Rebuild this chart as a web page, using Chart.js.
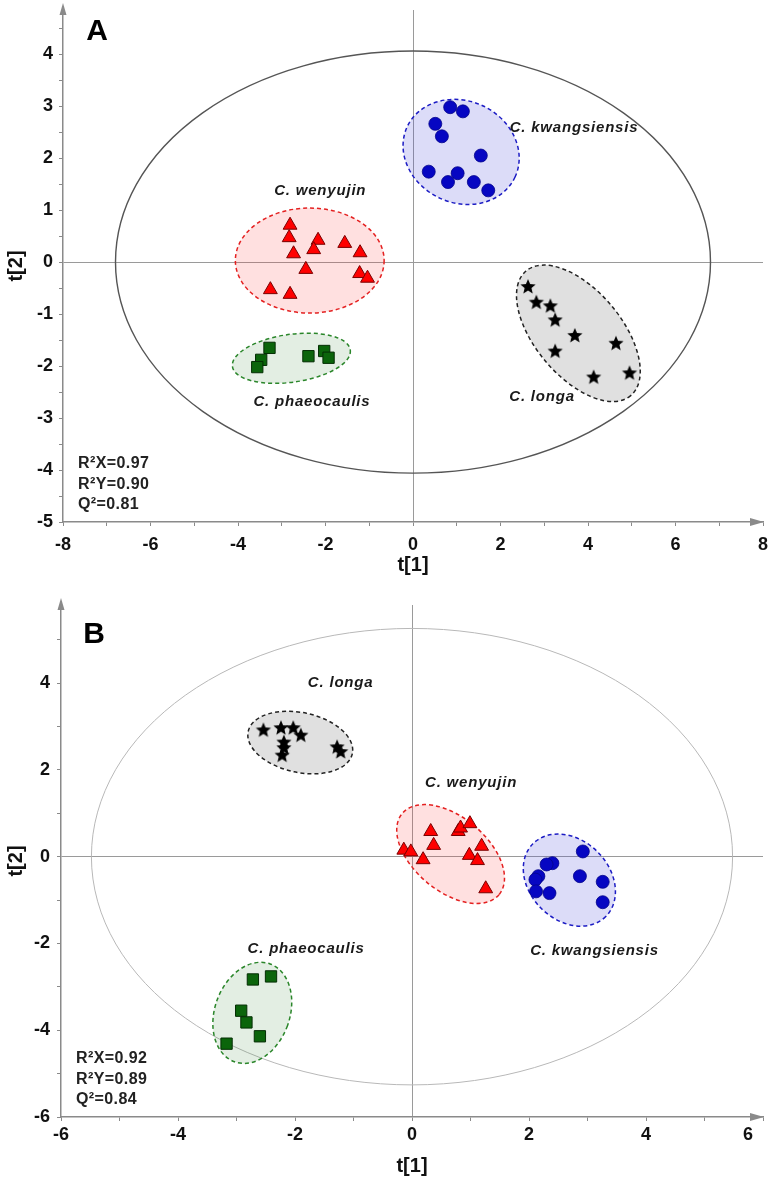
<!DOCTYPE html>
<html>
<head>
<meta charset="utf-8">
<script src="https://cdn.jsdelivr.net/npm/chart.js@4"></script>
<style>
    html, body { margin: 0; padding: 0; background: #fff; }
    .panel { position: relative; width: 772px; }
    #panelA { height: 580px; }
    #panelB { height: 598px; }
</style>
</head>
<body>
<div class="panel" id="panelA"><canvas id="graphA"></canvas></div>
<div class="panel" id="panelB"><canvas id="graphB"></canvas></div>
<script>
//Datos panel A
const aKwangX = [0.85, 1.14, 0.51, 0.66, 1.55, 0.36, 1.02, 0.80, 1.39, 1.72];
const aKwangY = [2.98, 2.90, 2.66, 2.42, 2.05, 1.74, 1.71, 1.54, 1.54, 1.38];
const aWenX = [-2.81, -2.83, -2.17, -1.56, -2.27, -2.73, -1.21, -2.45, -1.22, -1.04, -3.26, -2.81];
const aWenY = [0.71, 0.47, 0.42, 0.36, 0.24, 0.16, 0.18, -0.14, -0.22, -0.31, -0.53, -0.62];
const aPhaeoX = [-3.28, -3.47, -3.56, -2.39, -2.03, -1.93];
const aPhaeoY = [-1.65, -1.88, -2.02, -1.81, -1.71, -1.84];
const aLongaX = [2.63, 2.82, 3.14, 3.25, 3.70, 4.64, 3.25, 4.95, 4.13];
const aLongaY = [-0.48, -0.78, -0.85, -1.12, -1.42, -1.57, -1.72, -2.14, -2.22];
const aStats = ['R²X=0.97', 'R²Y=0.90', 'Q²=0.81'];

//Datos panel B
const bLongaX = [-2.54, -2.24, -2.03, -1.90, -2.19, -2.19, -2.22, -1.28, -1.22];
const bLongaY = [2.91, 2.96, 2.96, 2.79, 2.63, 2.50, 2.33, 2.52, 2.41];
const bWenX = [-0.14, -0.02, 0.32, 0.37, 0.19, 0.79, 0.83, 0.99, 1.19, 0.98, 1.12, 1.26];
const bWenY = [0.15, 0.11, 0.58, 0.26, -0.07, 0.58, 0.66, 0.76, 0.24, 0.03, -0.09, -0.74];
const bKwangX = [2.92, 2.40, 2.30, 2.16, 2.11, 2.12, 2.35, 2.87, 3.26, 3.26];
const bKwangY = [0.12, -0.15, -0.18, -0.45, -0.53, -0.80, -0.84, -0.45, -0.58, -1.05];
const bPhaeoX = [-2.72, -2.41, -2.92, -2.83, -2.60, -3.17];
const bPhaeoY = [-2.83, -2.76, -3.55, -3.82, -4.14, -4.31];
const bStats = ['R²X=0.92', 'R²Y=0.89', 'Q²=0.84'];

const FONT = "'Liberation Sans', Arial, sans-serif";

//Estilos de grupo
const estilos = {
    kwang: { fill: 'rgba(70,70,220,0.19)', line: '#1c1cc4' },
    wen:   { fill: 'rgba(255,50,50,0.15)', line: '#e42020' },
    phaeo: { fill: 'rgba(40,120,40,0.13)', line: '#2a862a' },
    longa: { fill: 'rgba(0,0,0,0.12)',     line: '#222222' }
};

//Estrella rellena (Chart.js 'star' es un asterisco)
function crearEstrella(r) {
    const c = document.createElement('canvas');
    c.width = c.height = 2 * r + 2;
    const g = c.getContext('2d');
    g.beginPath();
    for (let i = 0; i < 10; i++) {
        const rad = i % 2 === 0 ? r : r * 0.45;
        const ang = -Math.PI / 2 + i * Math.PI / 5;
        g.lineTo(r + 1 + rad * Math.cos(ang), r + 1 + rad * Math.sin(ang));
    }
    g.closePath();
    g.fillStyle = '#000';
    g.fill();
    return c;
}
const estrella = crearEstrella(8);

function pts(xs, ys) {
    return xs.map((x, i) => ({ x: x, y: ys[i] }));
}

function datasets(kx, ky, wx, wy, px, py, lx, ly) {
    return [
        { data: pts(kx, ky), pointStyle: 'circle', pointRadius: 6.5, backgroundColor: '#0606c2', borderColor: '#04048a', borderWidth: 0.8 },
        { data: pts(wx, wy), pointStyle: 'triangle', pointRadius: 8, backgroundColor: '#ff0000', borderColor: '#780000', borderWidth: 1 },
        { data: pts(px, py), pointStyle: 'rect', pointRadius: 8, backgroundColor: '#0b650b', borderColor: '#042e04', borderWidth: 1 },
        { data: pts(lx, ly), pointStyle: estrella, pointRadius: 8, backgroundColor: '#000', borderColor: '#000' }
    ];
}

//Plugin: elipses, textos y flechas
function crearDecor(cfg) {
    return {
        id: 'decor',
        beforeDatasetsDraw(chart) {
            const { ctx, scales: { x, y } } = chart;
            const ux = Math.abs(x.getPixelForValue(1) - x.getPixelForValue(0));
            const uy = Math.abs(y.getPixelForValue(0) - y.getPixelForValue(1));
            ctx.save();
            ctx.beginPath();
            ctx.ellipse(x.getPixelForValue(0), y.getPixelForValue(0), cfg.t2[0] * ux, cfg.t2[1] * uy, 0, 0, 2 * Math.PI);
            ctx.strokeStyle = cfg.t2Color;
            ctx.lineWidth = cfg.t2Width;
            ctx.stroke();
            cfg.regiones.forEach(r => {
                const est = estilos[r.grupo];
                ctx.beginPath();
                ctx.ellipse(x.getPixelForValue(r.cx), y.getPixelForValue(r.cy), r.rx * ux, r.ry * uy, r.rot * Math.PI / 180, 0, 2 * Math.PI);
                ctx.fillStyle = est.fill;
                ctx.fill();
                ctx.setLineDash([4, 3]);
                ctx.strokeStyle = est.line;
                ctx.lineWidth = 1.5;
                ctx.stroke();
                ctx.setLineDash([]);
            });
            ctx.restore();
        },
        afterDatasetsDraw(chart) {
            const { ctx, chartArea, scales: { x, y } } = chart;
            ctx.save();
            ctx.fillStyle = '#1a1a1a';
            ctx.textAlign = 'center';
            ctx.textBaseline = 'middle';
            ctx.font = 'italic bold 15px ' + FONT;
            ctx.letterSpacing = '0.8px';
            cfg.etiquetas.forEach(e => {
                ctx.fillText(e.texto, x.getPixelForValue(e.x), y.getPixelForValue(e.y));
            });
            //Estadisticos
            ctx.textAlign = 'left';
            ctx.fillStyle = '#222';
            ctx.font = 'bold 16px ' + FONT;
            ctx.letterSpacing = '0.4px';
            cfg.stats.forEach((s, i) => {
                ctx.fillText(s, chartArea.left + 15, chartArea.bottom - 58 + i * 20.5);
            });
            ctx.letterSpacing = '0px';
            //Letra del panel
            ctx.textAlign = 'center';
            ctx.fillStyle = '#000';
            ctx.font = 'bold 30px ' + FONT;
            ctx.fillText(cfg.letra, cfg.letraPos[0], cfg.letraPos[1]);
            ctx.restore();
        },
        afterDraw(chart) {
            const { ctx, chartArea } = chart;
            ctx.save();
            ctx.fillStyle = '#8a8a8a';
            //Flecha eje Y
            ctx.beginPath();
            ctx.moveTo(chartArea.left, chartArea.top - 7);
            ctx.lineTo(chartArea.left - 3.5, chartArea.top + 5);
            ctx.lineTo(chartArea.left + 3.5, chartArea.top + 5);
            ctx.closePath();
            ctx.fill();
            //Flecha eje X
            ctx.beginPath();
            ctx.moveTo(chartArea.right + 1, chartArea.bottom);
            ctx.lineTo(chartArea.right - 13, chartArea.bottom - 4);
            ctx.lineTo(chartArea.right - 13, chartArea.bottom + 4);
            ctx.closePath();
            ctx.fill();
            ctx.restore();
        }
    };
}

function ejes(o) {
    const grid = {
        color: c => (c.tick && Math.abs(c.tick.value) < 1e-9) ? '#9a9a9a' : 'rgba(0,0,0,0)',
        tickColor: '#8a8a8a',
        tickLength: 4,
        lineWidth: 1
    };
    const border = { display: true, color: '#8a8a8a', width: 1.5 };
    const par = v => Math.abs(v - Math.round(v)) < 1e-6 && Math.round(v) % o.cadaX === 0;
    return {
        x: {
            type: 'linear', min: o.xMin, max: o.xMax,
            grid: grid, border: border,
            ticks: {
                stepSize: 1, autoSkip: false, maxRotation: 0, includeBounds: false,
                padding: o.xPad, color: '#111', font: { family: FONT, size: 18, weight: 'bold' },
                callback: v => par(v) ? (o.etiquetaX ? o.etiquetaX(Math.round(v)) : String(Math.round(v))) : ''
            },
            title: { display: true, text: 't[1]', color: '#111', font: { family: FONT, size: 20, weight: 'bold' }, padding: { top: 0, bottom: o.xTitlePad } },
            afterFit: s => { s.height = o.xAlto; s.paddingLeft = 0; s.paddingRight = 0; }
        },
        y: {
            type: 'linear', min: o.yMin, max: o.yMax,
            grid: grid, border: border,
            ticks: {
                stepSize: o.yPaso, autoSkip: false, includeBounds: false,
                padding: o.yPad, color: '#111', font: { family: FONT, size: 18, weight: 'bold' },
                callback: v => (Math.abs(v - Math.round(v)) < 1e-6 && Math.round(v) % o.cadaY === 0) ? String(Math.round(v)) : ''
            },
            title: { display: true, text: 't[2]', color: '#111', font: { family: FONT, size: 20, weight: 'bold' }, padding: { top: 4, bottom: 0 } },
            afterFit: s => { s.width = o.yAncho; s.paddingTop = 0; s.paddingBottom = 0; }
        }
    };
}

//Grafico A
new Chart(document.querySelector('#graphA'), {
    type: 'scatter',
    data: { datasets: datasets(aKwangX, aKwangY, aWenX, aWenY, aPhaeoX, aPhaeoY, aLongaX, aLongaY) },
    options: {
        responsive: true,
        maintainAspectRatio: false,
        animation: false,
        events: [],
        layout: { padding: { top: 10, right: 5, bottom: 0, left: 0 } },
        plugins: { legend: { display: false }, tooltip: { enabled: false } },
        scales: ejes({ xMin: -8, xMax: 8, yMin: -5, yMax: 4.85, yPaso: 0.5, cadaX: 2, cadaY: 1,
            xPad: 8, yPad: 6, xAlto: 58, yAncho: 63, xTitlePad: 3 })
    },
    plugins: [crearDecor({
        t2: [6.8, 4.06], t2Color: '#555', t2Width: 1.4,
        regiones: [
            { grupo: 'kwang', cx: 1.10, cy: 2.12, rx: 1.36, ry: 0.98, rot: 25 },
            { grupo: 'wen', cx: -2.36, cy: 0.03, rx: 1.70, ry: 1.01, rot: 0 },
            { grupo: 'phaeo', cx: -2.78, cy: -1.85, rx: 1.36, ry: 0.46, rot: -8 },
            { grupo: 'longa', cx: 3.78, cy: -1.37, rx: 1.86, ry: 0.83, rot: 50 }
        ],
        etiquetas: [
            { texto: 'C. kwangsiensis', x: 3.68, y: 2.58 },
            { texto: 'C. wenyujin', x: -2.12, y: 1.38 },
            { texto: 'C. phaeocaulis', x: -2.31, y: -2.69 },
            { texto: 'C. longa', x: 2.95, y: -2.59 }
        ],
        stats: aStats,
        letra: 'A', letraPos: [97, 32]
    })]
});

//Grafico B
new Chart(document.querySelector('#graphB'), {
    type: 'scatter',
    data: { datasets: datasets(bKwangX, bKwangY, bWenX, bWenY, bPhaeoX, bPhaeoY, bLongaX, bLongaY) },
    options: {
        responsive: true,
        maintainAspectRatio: false,
        animation: false,
        events: [],
        layout: { padding: { top: 25, right: 2, bottom: 0, left: 0 } },
        plugins: { legend: { display: false }, tooltip: { enabled: false } },
        scales: ejes({ xMin: -6, xMax: 6, yMin: -6, yMax: 5.8, yPaso: 1, cadaX: 2, cadaY: 2,
            xPad: 3, yPad: 7, xAlto: 61, yAncho: 61, xTitlePad: 0,
            etiquetaX: v => v === 6 ? '6\u2007\u2007\u2007' : String(v) })
    },
    plugins: [crearDecor({
        t2: [5.48, 5.26], t2Color: '#b8b8b8', t2Width: 1,
        regiones: [
            { grupo: 'longa', cx: -1.91, cy: 2.63, rx: 0.91, ry: 0.69, rot: 12 },
            { grupo: 'wen', cx: 0.66, cy: 0.06, rx: 1.08, ry: 0.85, rot: 40 },
            { grupo: 'kwang', cx: 2.69, cy: -0.54, rx: 0.88, ry: 0.92, rot: 45 },
            { grupo: 'phaeo', cx: -2.73, cy: -3.60, rx: 0.64, ry: 1.20, rot: 20 }
        ],
        etiquetas: [
            { texto: 'C. longa', x: -1.22, y: 4.0 },
            { texto: 'C. wenyujin', x: 1.01, y: 1.70 },
            { texto: 'C. kwangsiensis', x: 3.12, y: -2.16 },
            { texto: 'C. phaeocaulis', x: -1.81, y: -2.12 }
        ],
        stats: bStats,
        letra: 'B', letraPos: [94, 55]
    })]
});
</script>
</body>
</html>
